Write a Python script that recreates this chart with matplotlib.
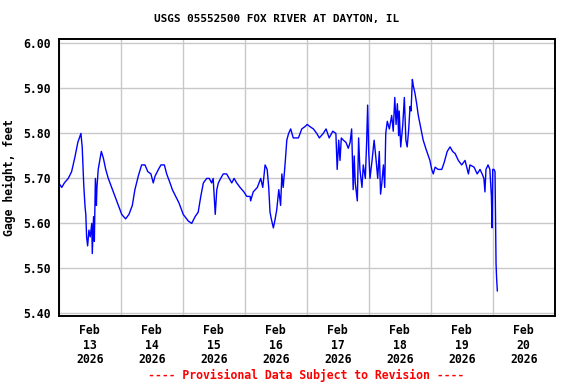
import datetime as dt
import matplotlib
matplotlib.use("Agg")
import matplotlib.pyplot as plt
import matplotlib.dates as mdates

# hours after 2026-02-13 00:00 and gage height (ft)
hours = [0.0, 1.2, 2.2, 3.7, 5.0, 6.3, 7.4, 8.6, 9.1, 9.7, 10.2, 10.5, 10.8, 11.2,
         11.7, 12.2, 12.8, 13.0, 13.5, 13.8, 14.2, 14.6, 14.8, 15.3, 15.9, 16.5,
         17.3, 18.2, 19.2, 20.5, 21.8, 23.1, 24.4, 25.9, 27.2, 28.5, 29.5, 30.8,
         32.1, 33.4, 34.5, 35.7, 36.6, 37.3, 38.6, 39.6, 40.9, 41.8, 43.1, 44.0,
         45.3, 46.6, 48.2, 50.2, 51.5, 52.8, 54.0, 55.0, 56.0, 57.3, 58.3, 59.2,
         59.8, 60.6, 61.2, 61.8, 62.7, 63.7, 65.0, 66.0, 67.0, 67.9, 68.9, 70.2,
         71.7, 72.8, 74.1, 74.3, 75.3, 76.9, 78.2, 79.0, 79.9, 80.7, 81.3, 81.8,
         82.3, 83.1, 83.8, 84.4, 85.2, 85.9, 86.4, 86.9, 87.7, 88.3, 89.0, 89.8,
         90.8, 92.8, 94.1, 95.3, 96.2, 97.3, 98.6, 99.9, 100.9, 102.4, 103.5,
         104.7, 106.1, 107.3, 107.8, 108.4, 108.9, 109.4, 110.2, 111.2, 112.1,
         112.8, 113.4, 114.0, 114.4, 114.8, 115.6, 116.1, 116.6, 117.4, 117.9,
         118.7, 119.2, 119.6, 120.0, 120.5, 121.3, 122.1, 122.8, 123.5, 124.1,
         124.6, 125.1, 125.7, 126.2, 126.6, 127.2, 128.0, 128.9, 129.5, 130.1,
         130.6, 131.1, 131.6, 131.8, 132.4, 133.2, 133.8, 134.4, 134.9, 135.5,
         136.0, 136.4, 136.9, 137.3, 137.9, 138.6, 139.2, 139.9, 141.1, 142.2,
         143.1, 143.7, 144.4, 145.0, 145.7, 146.9, 148.3, 149.2, 150.4, 151.5,
         152.5, 153.5, 154.7, 156.0, 157.3, 158.6, 159.2, 160.8, 162.0, 163.1,
         163.9, 164.6, 165.0, 165.4, 166.2, 166.9, 167.5, 167.8, 168.0, 168.5,
         168.9, 169.3, 169.5, 169.8]
stage = [5.69, 5.68, 5.69, 5.70, 5.715, 5.748, 5.78, 5.80, 5.77, 5.685, 5.637, 5.62,
         5.57, 5.55, 5.585, 5.57, 5.60, 5.533, 5.615, 5.56, 5.70, 5.64, 5.68, 5.72,
         5.74, 5.76, 5.745, 5.72, 5.70, 5.68, 5.66, 5.64, 5.62, 5.61, 5.62, 5.64,
         5.675, 5.705, 5.73, 5.73, 5.715, 5.71, 5.69, 5.705, 5.72, 5.73, 5.73,
         5.71, 5.69, 5.675, 5.66, 5.645, 5.62, 5.605, 5.60, 5.615, 5.625, 5.66,
         5.69, 5.70, 5.70, 5.69, 5.70, 5.62, 5.675, 5.69, 5.70, 5.71, 5.71, 5.70,
         5.69, 5.70, 5.69, 5.68, 5.67, 5.66, 5.66, 5.65, 5.67, 5.68, 5.70, 5.68,
         5.73, 5.72, 5.68, 5.625, 5.61, 5.59, 5.61, 5.63, 5.675, 5.64, 5.71, 5.68,
         5.737, 5.785, 5.80, 5.81, 5.79, 5.79, 5.81, 5.815, 5.82, 5.815, 5.81,
         5.80, 5.79, 5.80, 5.81, 5.79, 5.805, 5.80, 5.72, 5.785, 5.74, 5.79, 5.785,
         5.78, 5.767, 5.78, 5.81, 5.675, 5.75, 5.69, 5.65, 5.79, 5.72, 5.68, 5.73,
         5.70, 5.78, 5.863, 5.76, 5.70, 5.74, 5.785, 5.745, 5.70, 5.76, 5.665,
         5.69, 5.73, 5.68, 5.80, 5.827, 5.81, 5.84, 5.805, 5.88, 5.82, 5.866,
         5.795, 5.85, 5.77, 5.82, 5.88, 5.785, 5.77, 5.81, 5.86, 5.85, 5.92,
         5.905, 5.89, 5.865, 5.84, 5.82, 5.785, 5.765, 5.75, 5.74, 5.72, 5.71,
         5.725, 5.72, 5.72, 5.735, 5.76, 5.77, 5.76, 5.755, 5.74, 5.73, 5.74,
         5.71, 5.73, 5.725, 5.71, 5.72, 5.71, 5.70, 5.67, 5.72, 5.73, 5.72, 5.66,
         5.59, 5.72, 5.72, 5.715, 5.51, 5.48, 5.45]

start = dt.datetime(2026, 2, 13)
times = [start + dt.timedelta(hours=h) for h in hours]

font = "DejaVu Sans Mono"
fs = 8.3

fig = plt.figure(figsize=(5.76, 3.84), dpi=100)
ax = fig.add_axes([0.1019, 0.177, 0.8611, 0.721])

ax.plot(times, stage, color="#0000ff", linewidth=1.0)

ax.set_xlim(start, start + dt.timedelta(days=8))
ax.set_ylim(5.394, 6.0096)

ax.xaxis.set_major_locator(mdates.DayLocator())
ax.xaxis.set_major_formatter(plt.NullFormatter())
ax.xaxis.set_minor_locator(mdates.HourLocator(byhour=[12]))
ax.xaxis.set_minor_formatter(mdates.DateFormatter("%b\n%d\n%Y"))
ax.set_yticks([5.4, 5.5, 5.6, 5.7, 5.8, 5.9, 6.0])
ax.set_yticklabels(["%.2f" % v for v in ax.get_yticks()])

ax.tick_params(axis="x", which="both", length=0, pad=6)
ax.tick_params(axis="y", length=0, pad=6)
for lab in ax.get_xticklabels(minor=True) + ax.get_yticklabels():
    lab.set_fontfamily(font)
    lab.set_fontweight("bold")
    lab.set_fontsize(fs)
    lab.set_linespacing(1.15)

ax.grid(True, which="major", color="#c8c8c8", linewidth=1.0)
ax.set_axisbelow(True)
for sp in ax.spines.values():
    sp.set_linewidth(1.4)
    sp.set_color("black")

ax.set_ylabel("Gage height, feet", fontfamily=font, fontweight="bold",
              fontsize=fs, labelpad=5)
fig.text(277 / 576, 0.95, "USGS 05552500 FOX RIVER AT DAYTON, IL",
         fontfamily=font, fontweight="bold", fontsize=7.9, ha="center", va="center")
fig.text(0.532, 0.022, "---- Provisional Data Subject to Revision ----",
         fontfamily=font, fontweight="bold", fontsize=fs, color="red",
         ha="center", va="center")

fig.savefig("out.png", dpi=100)
